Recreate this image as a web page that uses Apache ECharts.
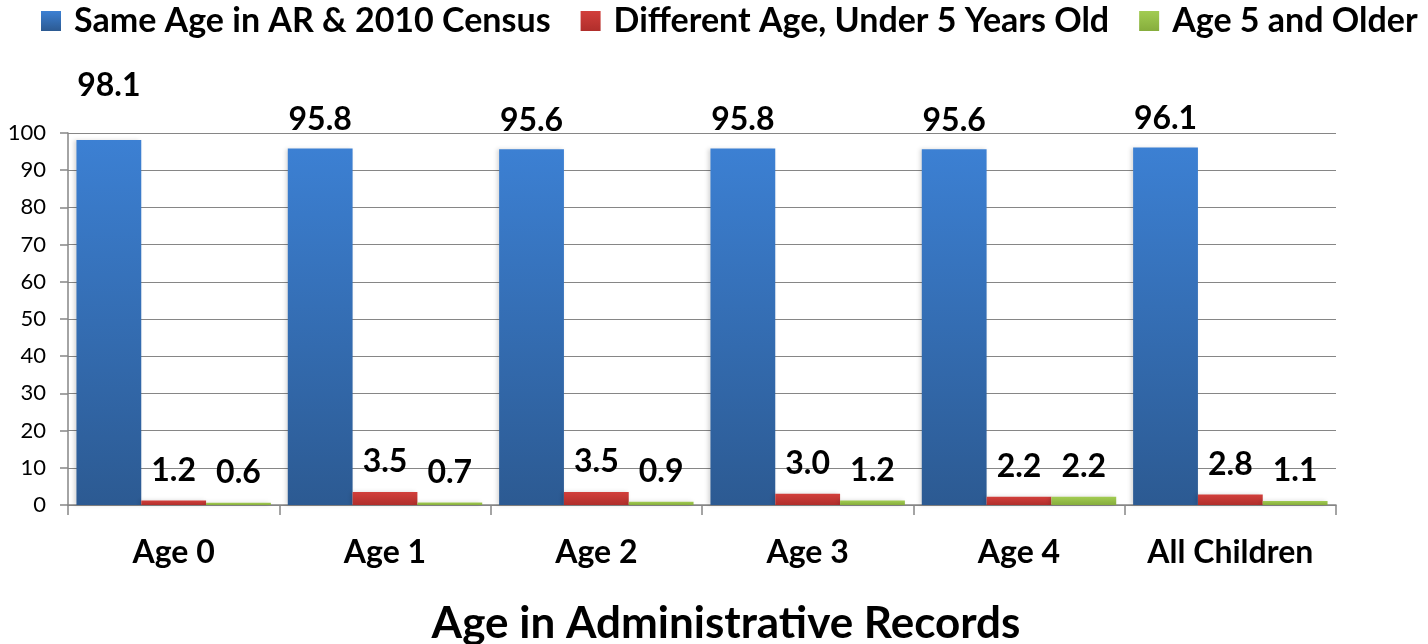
<!DOCTYPE html>
<html>
<head>
<meta charset="utf-8">
<script src="https://cdn.jsdelivr.net/npm/echarts@6/dist/echarts.min.js"></script>
<style>
  html, body { margin: 0; padding: 0; background: #fff; }
  #chart { width: 1428px; height: 644px; }
</style>
</head>
<body>
<div id="chart"></div>
<script>
var categories = ['Age 0', 'Age 1', 'Age 2', 'Age 3', 'Age 4', 'All Children'];
var sameAge = [98.1, 95.8, 95.6, 95.8, 95.6, 96.1];
var diffUnder5 = [1.2, 3.5, 3.5, 3.0, 2.2, 2.8];
var age5Older = [0.6, 0.7, 0.9, 1.2, 2.2, 1.1];
var seriesNames = ['Same Age in AR & 2010 Census', 'Different Age, Under 5 Years Old', 'Age 5 and Older'];

var font = 'Lato, "Open Sans", sans-serif';

function grad(top, bottom) {
    return new echarts.graphic.LinearGradient(0, 0, 0, 1, [
        { offset: 0, color: top },
        { offset: 1, color: bottom }
    ]);
}

function makeSeries(name, data, top, bottom, dist) {
    return {
        name: name,
        type: 'bar',
        data: data,
        barGap: '0%',
        barCategoryGap: '8%',
        itemStyle: {
            color: grad(top, bottom),
            shadowColor: 'rgba(0,0,0,0.15)',
            shadowBlur: 4,
            shadowOffsetX: -2
        },
        label: {
            show: true,
            position: 'top',
            distance: dist,
            fontFamily: font,
            fontWeight: 'bold',
            fontSize: 32,
            color: '#000',
            formatter: function (p) { return p.value.toFixed(1); }
        }
    };
}

// the first blue label sits higher in the original
var blueData = sameAge.map(function (v, i) {
    return i === 0 ? { value: v, label: { distance: 38 } } : v;
});

var myChart = echarts.init(document.getElementById('chart'));
var option = {
    animation: false,
    legend: {
        top: -1,
        left: 36,
        itemWidth: 20,
        itemHeight: 20,
        itemGap: 30,
        icon: 'rect',
        textStyle: {
            fontFamily: font,
            fontWeight: 'bold',
            fontSize: 34,
            color: '#000',
            padding: [0, 0, 0, 8]
        },
        data: seriesNames
    },
    grid: {
        left: 68,
        right: 92,
        top: 133,
        bottom: 139,
        outerBoundsMode: 'none'
    },
    xAxis: {
        type: 'category',
        data: categories,
        name: 'Age in Administrative Records',
        nameLocation: 'middle',
        nameGap: 97,
        nameTextStyle: {
            fontFamily: font,
            fontWeight: 'bold',
            fontSize: 44,
            color: '#000',
            padding: [0, 0, 0, 48]
        },
        axisLine: { lineStyle: { color: '#868686', width: 1.5 } },
        axisTick: { show: true, interval: 0, length: 10, lineStyle: { color: '#868686', width: 1.5 } },
        axisLabel: {
            interval: 0,
            margin: 32,
            fontFamily: font,
            fontWeight: 'bold',
            fontSize: 32,
            color: '#000'
        }
    },
    yAxis: {
        type: 'value',
        min: 0,
        max: 100,
        interval: 10,
        axisLine: { show: true, lineStyle: { color: '#868686', width: 1.5 } },
        axisTick: { show: true, length: 8, lineStyle: { color: '#868686', width: 1.5 } },
        splitLine: { lineStyle: { color: '#868686', width: 1.2 } },
        axisLabel: {
            margin: 22,
            fontFamily: font,
            fontSize: 22,
            color: '#000'
        }
    },
    series: [
        makeSeries(seriesNames[0], blueData, '#3c80d3', '#2c5a92', 13),
        makeSeries(seriesNames[1], diffUnder5, '#d23f3b', '#b02e2b', 14),
        makeSeries(seriesNames[2], age5Older, '#a2cc52', '#86ad3c', 14)
    ]
};
myChart.setOption(option);
</script>
</body>
</html>
